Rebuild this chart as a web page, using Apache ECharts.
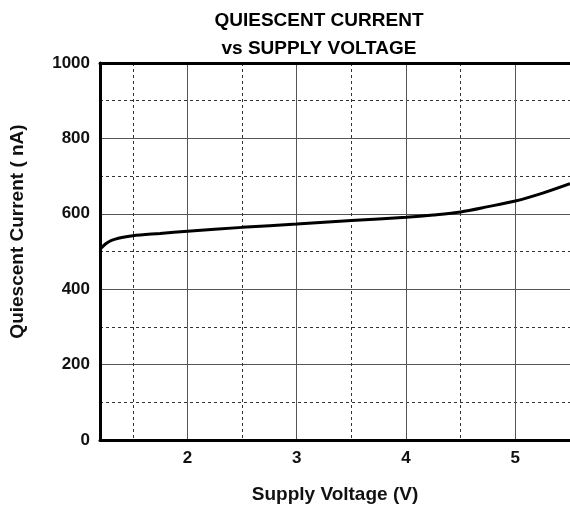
<!DOCTYPE html>
<html>
<head>
<meta charset="utf-8">
<script src="https://cdn.jsdelivr.net/npm/echarts@6/dist/echarts.min.js"></script>
<style>
  html, body { margin: 0; padding: 0; background: #fff; }
  #main { width: 570px; height: 510px; }
</style>
</head>
<body>
<div id="main"></div>
<script>
  // supply voltage (V) and quiescent current (nA)
  var volts   = [1.2, 1.25, 1.3, 1.4, 1.5, 1.75, 2, 2.5, 3, 3.5, 4, 4.25, 4.5, 4.75, 5, 5.25, 5.5];
  var current = [506, 520, 529, 537, 542, 548, 554, 564, 573, 582, 591, 597, 605, 619, 634, 655, 680];
  var xRange = [1.2, 5.5];
  var yRange = [0, 1000];

  var font = 'Liberation Sans, Arial, sans-serif';
  var pts = volts.map(function (v, i) { return [v, current[i]]; });

  var myChart = echarts.init(document.getElementById('main'));
  var option = {
    animation: false,
    title: {
      text: 'QUIESCENT CURRENT\nvs SUPPLY VOLTAGE',
      left: 314,
      top: 2,
      textAlign: 'center',
      textStyle: { fontFamily: font, fontSize: 19, fontWeight: 'bold', color: '#000', lineHeight: 28 }
    },
    grid: { left: 100, top: 63, width: 472, bottom: 70 },
    xAxis: [{
      type: 'value',
      min: xRange[0],
      max: xRange[1],
      splitNumber: 4,
      name: 'Supply Voltage (V)',
      nameLocation: 'middle',
      nameGap: 45,
      nameTextStyle: { fontFamily: font, fontSize: 19, fontWeight: 'bold', color: '#111' },
      axisLine: { lineStyle: { color: '#000', width: 3 } },
      axisTick: { show: false },
      axisLabel: {
        showMinLabel: false, showMaxLabel: false, margin: 10,
        fontFamily: font, fontSize: 17, fontWeight: 'bold', color: '#111'
      },
      splitLine: { show: true, lineStyle: { color: '#555', width: 1 } },
      minorTick: { show: false, splitNumber: 2 },
      minorSplitLine: { show: true, lineStyle: { color: '#333', width: 1, type: [3, 3] } }
    }, {
      type: 'value',
      position: 'top',
      min: xRange[0],
      max: xRange[1],
      axisLine: { show: true, lineStyle: { color: '#000', width: 3 } },
      axisTick: { show: false },
      axisLabel: { show: false },
      splitLine: { show: false }
    }],
    yAxis: {
      type: 'value',
      min: yRange[0],
      max: yRange[1],
      interval: 200,
      name: 'Quiescent Current ( nA)',
      nameLocation: 'middle',
      nameGap: 73,
      nameTextStyle: { fontFamily: font, fontSize: 19, fontWeight: 'bold', color: '#111', padding: [0, 0, 0, 40] },
      axisLine: { show: true, lineStyle: { color: '#000', width: 3 } },
      axisTick: { show: false },
      axisLabel: {
        margin: 10, fontFamily: font, fontSize: 17, fontWeight: 'bold', color: '#111',
        formatter: function (v) { return String(v); }
      },
      splitLine: { show: true, lineStyle: { color: '#555', width: 1 } },
      minorTick: { show: false, splitNumber: 2 },
      minorSplitLine: { show: true, lineStyle: { color: '#333', width: 1, type: [3, 3] } }
    },
    series: [{
      type: 'line',
      xAxisIndex: 0,
      data: pts,
      smooth: 0.3,
      showSymbol: false,
      lineStyle: { color: '#000', width: 3 }
    }]
  };
  myChart.setOption(option);
</script>
</body>
</html>
